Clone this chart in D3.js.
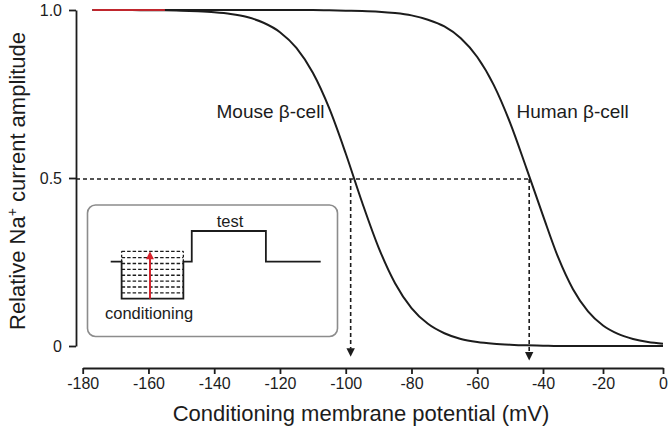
<!DOCTYPE html>
<html>
<head>
<meta charset="utf-8">
<script src="https://cdn.jsdelivr.net/npm/d3@7/dist/d3.min.js"></script>
<style>
  html, body { margin: 0; padding: 0; background: #fff; }
  svg { display: block; font-family: "Liberation Sans", Arial, Helvetica, sans-serif; }
</style>
</head>
<body>
<svg id="chart" width="668" height="432"></svg>
<script>
// ---------- data ----------
const xTicks = [-180, -160, -140, -120, -100, -80, -60, -40, -20, 0];
const xTickLabels = ["-180", "-160", "-140", "-120", "-100", "-80", "-60", "-40", "-20", "0"];
const yTicks = [0, 0.5, 1];
const yTickLabels = ["0", "0.5", "1.0"];

const voltages = [-177, -170, -165, -160, -155, -150, -145, -140, -135, -130, -125, -120,
  -115, -110, -105, -100, -95, -90, -85, -80, -75, -70, -65, -60, -55, -50, -45, -40,
  -35, -30, -25, -20, -15, -10, -5, 0];
const mouseAmp = [1.000, 1.000, 1.000, 0.999, 0.999, 0.998, 0.996, 0.993, 0.988, 0.979, 0.962, 0.934,
  0.887, 0.813, 0.707, 0.573, 0.427, 0.293, 0.187, 0.113, 0.066, 0.038, 0.021, 0.012, 0.007, 0.004, 0.002, 0.001,
  0.000, 0.000, 0.000, 0.000, 0.000, 0.000, 0.000, 0.000];
const humanAmp = [1.000, 1.000, 1.000, 1.000, 1.000, 1.000, 1.000, 1.000, 1.000, 1.000, 1.000, 1.000,
  1.000, 1.000, 0.999, 0.998, 0.997, 0.995, 0.991, 0.984, 0.971, 0.951, 0.916, 0.860, 0.777, 0.664, 0.528, 0.388,
  0.265, 0.169, 0.103, 0.061, 0.036, 0.021, 0.012, 0.007];
const seriesNames = ["Mouse \u03B2-cell", "Human \u03B2-cell"];
const halfVoltages = [-98.5, -44.2];   // V1/2 markers (dashed arrows)
const highlightRange = [-177, -155];   // red segment at amplitude 1.0

// inset protocol (schematic, arbitrary units)
const protoTimes = { start: 0, condOn: 5.2, condOff: 34.6, testOn: 38.6, testOff: 73.9, end: 100, arrow: 18.7, label: 56.8 };
const holdingV = -68;
const testV = 0;
const condLevels = [-150, -137, -124, -111, -98, -85, -72, -59, -45];

// ---------- layout ----------
const svg = d3.select("#chart");
const x = d3.scaleLinear().domain([-180, -40, 0]).range([82.7, 543, 663]);
const y = d3.scaleLinear().domain([0, 1]).range([346, 10]);
const axisY = 368;
const axisX = 76;
const ink = "#1c1c1c";

// ---------- axes ----------
const xAxis = svg.append("g")
  .attr("transform", `translate(0,${axisY})`)
  .call(d3.axisBottom(x).tickValues(xTicks).tickSize(6).tickSizeOuter(0).tickPadding(4)
    .tickFormat((d, i) => xTickLabels[i]));
xAxis.select(".domain").attr("stroke", ink).attr("stroke-width", 1.8);
xAxis.selectAll(".tick line").attr("stroke", ink).attr("stroke-width", 1.8);
xAxis.selectAll(".tick text").attr("fill", ink).style("font-size", "16px").style("font-family", "Liberation Sans, Arial, sans-serif");

const yAxis = svg.append("g")
  .attr("transform", `translate(${axisX},0)`)
  .call(d3.axisLeft(y).tickValues(yTicks).tickSize(7).tickSizeOuter(0).tickPadding(7)
    .tickFormat((d, i) => yTickLabels[i]));
yAxis.select(".domain").attr("stroke", ink).attr("stroke-width", 1.8);
yAxis.selectAll(".tick line").attr("stroke", ink).attr("stroke-width", 1.8);
yAxis.selectAll(".tick text").attr("fill", ink).style("font-size", "16px").style("font-family", "Liberation Sans, Arial, sans-serif");

// axis titles
svg.append("text")
  .attr("x", 361).attr("y", 421)
  .attr("text-anchor", "middle")
  .attr("fill", ink)
  .style("font-size", "22px")
  .text("Conditioning membrane potential (mV)");

const yl = svg.append("text")
  .attr("transform", "translate(25,181) rotate(-90)")
  .attr("text-anchor", "middle")
  .attr("fill", ink)
  .style("font-size", "22px");
yl.append("tspan").text("Relative Na");
yl.append("tspan").attr("dy", -8).style("font-size", "14px").text("+");
yl.append("tspan").attr("dy", 8).text(" current amplitude");

// ---------- dashed V1/2 guides ----------
svg.append("line")
  .attr("x1", axisX).attr("x2", x(halfVoltages[1]))
  .attr("y1", y(0.5) + 1).attr("y2", y(0.5) + 1)
  .attr("stroke", ink).attr("stroke-width", 1.6).attr("stroke-dasharray", "4,3");

const arrowTips = [y(-0.032), y(-0.043)];
halfVoltages.forEach((v, i) => {
  const tip = arrowTips[i];
  svg.append("line")
    .attr("x1", x(v)).attr("x2", x(v))
    .attr("y1", y(0.5) + 1).attr("y2", tip - 8)
    .attr("stroke", ink).attr("stroke-width", 1.6).attr("stroke-dasharray", "4,3");
  svg.append("path")
    .attr("d", `M${x(v) - 4.2},${tip - 8.5} L${x(v) + 4.2},${tip - 8.5} L${x(v)},${tip} Z`)
    .attr("fill", ink);
});

// ---------- curves ----------
const line = d3.line()
  .x((d, i) => x(voltages[i]))
  .y(d => y(d))
  .curve(d3.curveMonotoneX);

[mouseAmp, humanAmp].forEach(s => {
  svg.append("path")
    .attr("d", line(s))
    .attr("fill", "none")
    .attr("stroke", ink)
    .attr("stroke-width", 2);
});

// red segment
svg.append("line")
  .attr("x1", x(highlightRange[0])).attr("x2", x(highlightRange[1]))
  .attr("y1", y(1)).attr("y2", y(1))
  .attr("stroke", "#c0262d").attr("stroke-width", 2.2);

// curve labels
svg.append("text").attr("x", 216.5).attr("y", 117.5).attr("fill", ink)
  .style("font-size", "19px").text(seriesNames[0]);
svg.append("text").attr("x", 516.5).attr("y", 117.5).attr("fill", ink)
  .style("font-size", "19px").text(seriesNames[1]);

// ---------- inset ----------
svg.append("rect")
  .attr("x", 87.5).attr("y", 205).attr("width", 250).attr("height", 131.5)
  .attr("rx", 8).attr("ry", 8)
  .attr("fill", "#fff").attr("stroke", "#8c8c8c").attr("stroke-width", 1.6);

const ix = d3.scaleLinear().domain([0, 100]).range([110.7, 320.7]);
const iy = d3.scaleLinear().domain([holdingV, testV]).range([261.7, 231]);
const T = protoTimes;
const minC = d3.min(condLevels), maxC = d3.max(condLevels);

// dashed conditioning levels (all but the bottom one)
condLevels.filter(v => v !== minC).forEach(v => {
  svg.append("line")
    .attr("x1", ix(T.condOn)).attr("x2", ix(T.condOff))
    .attr("y1", iy(v)).attr("y2", iy(v))
    .attr("stroke", ink).attr("stroke-width", 1.3).attr("stroke-dasharray", "3.5,2");
});
// dashed sides above holding
[T.condOn, T.condOff].forEach(t => {
  svg.append("line")
    .attr("x1", ix(t)).attr("x2", ix(t))
    .attr("y1", iy(holdingV)).attr("y2", iy(maxC))
    .attr("stroke", ink).attr("stroke-width", 1.3).attr("stroke-dasharray", "2.5,2");
});

// solid protocol trace
const proto = [
  [T.start, holdingV], [T.condOn, holdingV], [T.condOn, minC], [T.condOff, minC],
  [T.condOff, holdingV], [T.testOn, holdingV], [T.testOn, testV], [T.testOff, testV],
  [T.testOff, holdingV], [T.end, holdingV]
];
svg.append("path")
  .attr("d", d3.line().x(d => ix(d[0])).y(d => iy(d[1]))(proto))
  .attr("fill", "none").attr("stroke", ink).attr("stroke-width", 1.8);

// red arrow
svg.append("line")
  .attr("x1", ix(T.arrow)).attr("x2", ix(T.arrow))
  .attr("y1", iy(minC)).attr("y2", iy(maxC) + 7)
  .attr("stroke", "#d7222b").attr("stroke-width", 2);
svg.append("path")
  .attr("d", `M${ix(T.arrow) - 4},${iy(maxC) + 8} L${ix(T.arrow) + 4},${iy(maxC) + 8} L${ix(T.arrow)},${iy(maxC)} Z`)
  .attr("fill", "#d7222b");

svg.append("text").attr("x", ix(T.label)).attr("y", iy(testV) - 4.5)
  .attr("text-anchor", "middle").attr("fill", ink).style("font-size", "16.5px").text("test");
svg.append("text").attr("x", 105).attr("y", 318.5)
  .attr("fill", ink).style("font-size", "16.5px").text("conditioning");
</script>
</body>
</html>
